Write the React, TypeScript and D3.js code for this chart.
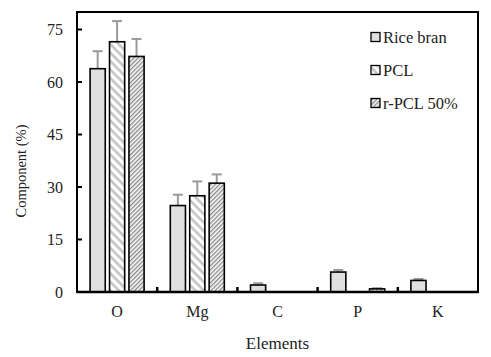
import React from "react";
import * as d3 from "d3";

const categories = ["O", "Mg", "C", "P", "K"];
const seriesNames = ["Rice bran", "PCL", "r-PCL 50%"];
const riceBran = [63.8, 24.7, 2.0, 5.7, 3.3];
const riceBranErr = [5.0, 3.1, 0.5, 0.6, 0.4];
const pcl = [71.5, 27.5, 0, 0, 0];
const pclErr = [5.9, 4.1, 0, 0, 0];
const rpcl = [67.3, 31.1, 0, 0.9, 0];
const rpclErr = [5.0, 2.5, 0, 0.2, 0];
const yTicks = [0, 15, 30, 45, 60, 75];

const W = 491, H = 357;
const M = { left: 77, right: 13, top: 12, bottom: 65 };

export default function App() {
  const x = d3.scaleBand<string>().domain(categories).range([M.left, W - M.right]).paddingInner(0).paddingOuter(0);
  const y = d3.scaleLinear().domain([0, 80]).range([H - M.bottom, M.top]);
  const sub = d3.scaleBand<number>().domain([0, 1, 2]).range([0, 54]).paddingInner(0.22);
  const series = [
    { vals: riceBran, errs: riceBranErr, fill: "#e0e0e0" },
    { vals: pcl, errs: pclErr, fill: "url(#hatchPCL)" },
    { vals: rpcl, errs: rpclErr, fill: "url(#hatchR)" },
  ];
  const bw = sub.bandwidth();
  const y0 = y(0);
  const font = "Liberation Serif";
  return (
    <svg width={W} height={H} style={{ position: "absolute", left: 0, top: 0, background: "#fff", fontFamily: font }}>
      <defs>
        <pattern id="hatchPCL" patternUnits="userSpaceOnUse" width="6" height="6" patternTransform="rotate(45)">
          <rect width="6" height="6" fill="#fff" />
          <rect x="0" y="0" width="6" height="2.6" fill="#c4c4c4" />
        </pattern>
        <pattern id="hatchR" patternUnits="userSpaceOnUse" width="3" height="3" patternTransform="rotate(-45)">
          <rect width="3" height="3" fill="#fff" />
          <rect x="0" y="0" width="3" height="1.4" fill="#8a8a8a" />
        </pattern>
      </defs>
      <rect x={M.left} y={M.top} width={W - M.left - M.right} height={H - M.top - M.bottom} fill="none" stroke="#000" strokeWidth={2} />
      {yTicks.map((t) => (
        <g key={t}>
          <line x1={M.left} x2={M.left + 5} y1={y(t)} y2={y(t)} stroke="#000" strokeWidth={2} />
          <text x={M.left - 14} y={y(t)} dy="0.35em" textAnchor="end" fontSize={16} fill="#222" fontFamily={font}>{t}</text>
        </g>
      ))}
      {categories.slice(1).map((c) => (
        <line key={c} x1={x(c)!} x2={x(c)!} y1={y0} y2={y0 - 5} stroke="#000" strokeWidth={2.5} />
      ))}
      {categories.map((c, i) => {
        const gx = x(c)! + x.bandwidth() / 2 - 27;
        return (
          <g key={c}>
            {series.map((s, j) => {
              const v = s.vals[i];
              if (v <= 0) return null;
              const bx = gx + sub(j)!;
              const top = y(v);
              const etop = y(v + s.errs[i]);
              const cx = bx + bw / 2;
              return (
                <g key={j}>
                  <line x1={cx} x2={cx} y1={top} y2={etop} stroke="#9a9a9a" strokeWidth={2} />
                  <line x1={cx - 5} x2={cx + 5} y1={etop} y2={etop} stroke="#9a9a9a" strokeWidth={2} />
                  <rect x={bx} y={top} width={bw} height={y0 - top} fill={s.fill} stroke="#000" strokeWidth={1.6} />
                </g>
              );
            })}
            <text x={x(c)! + x.bandwidth() / 2} y={317} textAnchor="middle" fontSize={16} fill="#222" fontFamily={font}>{c}</text>
          </g>
        );
      })}
      <line x1={M.left} x2={W - M.right} y1={y0} y2={y0} stroke="#000" strokeWidth={2.5} />
      <text x={(M.left + W - M.right) / 2} y={349} textAnchor="middle" fontSize={17} fill="#222" fontFamily={font}>Elements</text>
      <text transform={`translate(26, 171) rotate(-90)`} textAnchor="middle" fontSize={14.5} fill="#222" fontFamily={font}>Component (%)</text>
      {seriesNames.map((n, j) => {
        const ly = 37 + j * 33;
        return (
          <g key={n}>
            <rect x={371} y={ly - 4.5} width={9} height={9} fill={series[j].fill} stroke="#000" strokeWidth={1.3} />
            <text x={383} y={ly} dy="0.36em" fontSize={16.5} fill="#222" fontFamily={font}>{n}</text>
          </g>
        );
      })}
    </svg>
  );
}
